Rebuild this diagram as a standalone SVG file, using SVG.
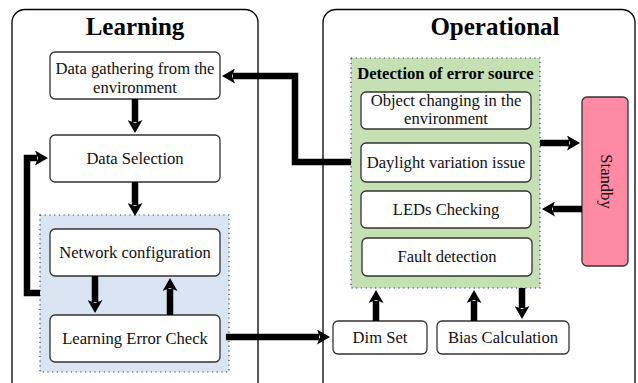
<svg xmlns="http://www.w3.org/2000/svg" width="638" height="383" viewBox="0 0 638 383" font-family="'Liberation Serif', 'DejaVu Serif', serif">
  <defs>
    <style>
      .panel { fill: #ffffff; stroke: #000000; stroke-width: 1.3; }
      .node { fill: #ffffff; stroke: #333333; stroke-width: 1.3; }
      .title { font-family: 'Liberation Serif', 'DejaVu Serif', serif; font-size: 25px; font-weight: bold; fill: #000; text-anchor: middle; }
      .label { font-family: 'Liberation Serif', 'DejaVu Serif', serif; font-size: 16.6px; font-weight: normal; fill: #111; text-anchor: middle; }
      .group-title { font-family: 'Liberation Serif', 'DejaVu Serif', serif; font-size: 16.6px; font-weight: bold; fill: #000; text-anchor: middle; }
      .edge { fill: none; stroke: #000000; stroke-width: 6.5; marker-end: url(#arrow); }
      .region-blue { fill: #dae5f3; stroke: #1f3d7a; stroke-width: 1.2; stroke-dasharray: 1.2 3.5; }
      .region-green { fill: #c5e0b3; stroke: #1f3d7a; stroke-width: 1.2; stroke-dasharray: 1.2 3.5; }
    </style>
    <marker id="arrow" markerUnits="userSpaceOnUse" viewBox="0 0 13 15" refX="2" refY="7.5" markerWidth="13" markerHeight="15" orient="auto">
      <path d="M0,0 L13,7.5 L0,15 L3,7.5 Z" fill="#000000"/>
    </marker>
  </defs>

  <!-- Panels -->
  <g id="learning-panel">
    <rect class="panel" x="12" y="9.5" width="246" height="390" rx="13"/>
    <text class="title" x="135" y="35">Learning</text>
  </g>
  <g id="operational-panel">
    <rect class="panel" x="323" y="9.5" width="312" height="390" rx="13"/>
    <text class="title" x="495" y="35">Operational</text>
  </g>

  <!-- Group backgrounds -->
  <g id="training-loop">
    <rect class="region-blue" x="40" y="215" width="189" height="157"/>
  </g>
  <g id="error-source">
    <rect class="region-green" x="351" y="58" width="189" height="230"/>
    <text class="group-title" x="445.5" y="78.5">Detection of error source</text>
  </g>

  <!-- Learning nodes -->
  <g id="data-gathering">
    <rect class="node" x="50" y="52" width="170" height="47" rx="5"/>
    <text class="label" x="135" y="74">Data gathering from the</text>
    <text class="label" x="135" y="92.5">environment</text>
  </g>
  <g id="data-selection">
    <rect class="node" x="50" y="135" width="170" height="47" rx="5"/>
    <text class="label" x="135" y="164">Data Selection</text>
  </g>
  <g id="network-configuration">
    <rect class="node" x="50" y="229" width="170" height="47" rx="5"/>
    <text class="label" x="135" y="258">Network configuration</text>
  </g>
  <g id="learning-error-check">
    <rect class="node" x="50" y="315" width="170" height="47" rx="5"/>
    <text class="label" x="135" y="344">Learning Error Check</text>
  </g>

  <!-- Operational nodes -->
  <g id="object-changing">
    <rect class="node" x="361" y="92" width="170" height="37" rx="5"/>
    <text class="label" x="446" y="105.5">Object changing in the</text>
    <text class="label" x="446" y="124">environment</text>
  </g>
  <g id="daylight-variation">
    <rect class="node" x="361" y="143" width="170" height="39" rx="5"/>
    <text class="label" x="446" y="168">Daylight variation issue</text>
  </g>
  <g id="leds-checking">
    <rect class="node" x="361" y="191" width="170" height="37" rx="5"/>
    <text class="label" x="446" y="215">LEDs Checking</text>
  </g>
  <g id="fault-detection">
    <rect class="node" x="362" y="238" width="170" height="38" rx="5"/>
    <text class="label" x="447" y="262">Fault detection</text>
  </g>
  <g id="dim-set">
    <rect class="node" x="333" y="321" width="94" height="33" rx="5"/>
    <text class="label" x="380" y="343">Dim Set</text>
  </g>
  <g id="bias-calculation">
    <rect class="node" x="437" y="321" width="132" height="33" rx="5"/>
    <text class="label" x="503" y="343">Bias Calculation</text>
  </g>
  <g id="standby">
    <rect x="582" y="97" width="46" height="169" rx="5" fill="#ff8aa4" stroke="#333333" stroke-width="1.3"/>
    <text class="label" x="0" y="0" transform="translate(600.5,181.5) rotate(90)">Standby</text>
  </g>

  <!-- Connectors -->
  <g id="connectors">
    <path class="edge" d="M135,99 V122"/>
    <path class="edge" d="M135,182 V205"/>
    <path class="edge" d="M95,276 V302"/>
    <path class="edge" d="M170,315 V289"/>
    <path class="edge" d="M40,293 H27 V158 H37"/>
    <path class="edge" d="M226,337 H319"/>
    <path class="edge" d="M351,162 H295 V76 H233"/>
    <path class="edge" d="M540,143 H569"/>
    <path class="edge" d="M582,209 H553"/>
    <path class="edge" d="M376,321 V301"/>
    <path class="edge" d="M474,321 V301"/>
    <path class="edge" d="M522,288 V308"/>
  </g>
</svg>
